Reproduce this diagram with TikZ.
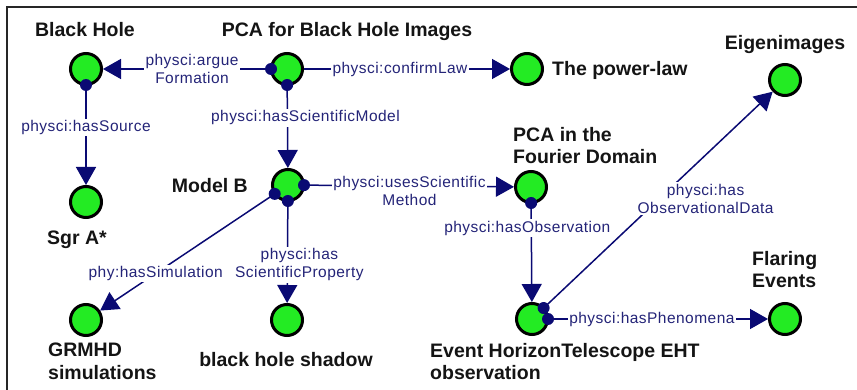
\documentclass[tikz,border=0pt]{standalone}
\usepackage{fontspec}
\setmainfont{Liberation Sans}
\newfontfamily\elabfont{Liberation Sans}[LetterSpace=3]
\usetikzlibrary{arrows.meta,calc}
\definecolor{nodegreen}{RGB}{35,235,35}
\definecolor{edgenavy}{RGB}{10,10,115}
\definecolor{labnavy}{RGB}{36,36,120}
\definecolor{txt}{RGB}{20,20,20}
\newcommand\srcdot[2]{\fill[edgenavy] ($(#1)!16pt!(#2)$) circle (6pt);}
\begin{document}
\begin{tikzpicture}[x=1pt,y=-1pt,
  ent/.style={circle, draw=black, line width=3pt, fill=nodegreen, minimum size=31pt, inner sep=0pt},
  nlab/.style={text=txt, font=\fontsize{19.5}{22.5}\selectfont\bfseries, inner sep=0pt},
  rel/.style={draw=edgenavy, line width=1.5pt, -{Triangle[length=18pt,width=20pt]}},
  elab/.style={fill=white, text=labnavy, font=\elabfont\fontsize{15.5}{18.5}\selectfont, inner sep=1.5pt, align=center},
]
\useasboundingbox (0,0) rectangle (857,390);
% frame
\coordinate (f0) at (7,390);
\coordinate (f1) at (7,7);
\coordinate (f2) at (857,7);
\draw[black!85, line width=1.3pt] (f0) -- (f1) -- (f2);

% entities
\node[ent] (bh)  at (86,69)  {};
\node[ent] (pca) at (287,69) {};
\node[ent] (pl)  at (527,69) {};
\node[ent] (ei)  at (785,80) {};
\node[ent] (sgr) at (86,202) {};
\node[ent] (mb)  at (288,185) {};
\node[ent] (pf)  at (531,187) {};
\node[ent] (gr)  at (86,320) {};
\node[ent] (sh)  at (287,320) {};
\node[ent] (eht) at (532,319) {};
\node[ent] (fe)  at (785,319) {};

% entity labels
\node[nlab, anchor=base] (bhl) at (85,37) {Black Hole};
\node[nlab, anchor=base] (pcal) at (347,37) {PCA for Black Hole Images};
\node[nlab, anchor=base west] (pll) at (552,76) {The power-law};
\node[nlab, anchor=base] (eil) at (785,50) {Eigenimages};
\node[nlab, anchor=base east] (mbl) at (248,193) {Model B};
\node[nlab, anchor=north west, align=left] (pfl) at (513,127) {PCA in the\\Fourier Domain};
\node[nlab, anchor=base] (sgrl) at (77,245) {Sgr A*};
\node[nlab, anchor=north west, align=left] (grl) at (48,343) {GRMHD\\simulations};
\node[nlab, anchor=base] (shl) at (286,366) {black hole shadow};
\node[nlab, anchor=north west, align=left] (ehtl) at (430,343) {Event HorizonTelescope EHT\\observation};
\node[nlab, anchor=north west, align=left] (fel) at (752,251) {Flaring\\Events};

% relations
\draw[rel] (pca) -- node[elab, pos=0.467] (r1) {physci:argue\\Formation} (bh);
\draw[rel] (pca) -- node[elab, pos=0.466] (r2) {physci:confirmLaw} (pl);
\draw[rel] (pca) -- node[elab, pos=0.39, xshift=18pt] (r3) {physci:hasScientificModel} (mb);
\draw[rel] (bh) -- node[elab, pos=0.42] (r4) {physci:hasSource} (sgr);
\draw[rel] (mb) -- node[elab, pos=0.5, yshift=-5pt] (r5) {physci:usesScientific\\Method} (pf);
\draw[rel] (mb) -- node[elab, pos=0.68] (r6) {phy:hasSimulation} (gr);
\draw[rel] (mb) -- node[elab, pos=0.62, xshift=12pt] (r7) {physci:has\\ScientificProperty} (sh);
\draw[rel] (pf) -- node[elab, pos=0.245, xshift=-4pt] (r8) {physci:hasObservation} (eht);
\draw[rel] (eht) -- node[elab, pos=0.61, xshift=22pt, yshift=-23pt] (r9) {physci:has\\ObservationalData} (ei);
\draw[rel] (eht) -- node[elab, pos=0.47] (r10) {physci:hasPhenomena} (fe);

% source dots
\srcdot{pca}{bh}
\srcdot{pca}{mb}
\srcdot{bh}{sgr}
\srcdot{mb}{pf}
\srcdot{mb}{gr}
\srcdot{mb}{sh}
\srcdot{pf}{eht}
\srcdot{eht}{ei}
\srcdot{eht}{fe}
\end{tikzpicture}
\end{document}
